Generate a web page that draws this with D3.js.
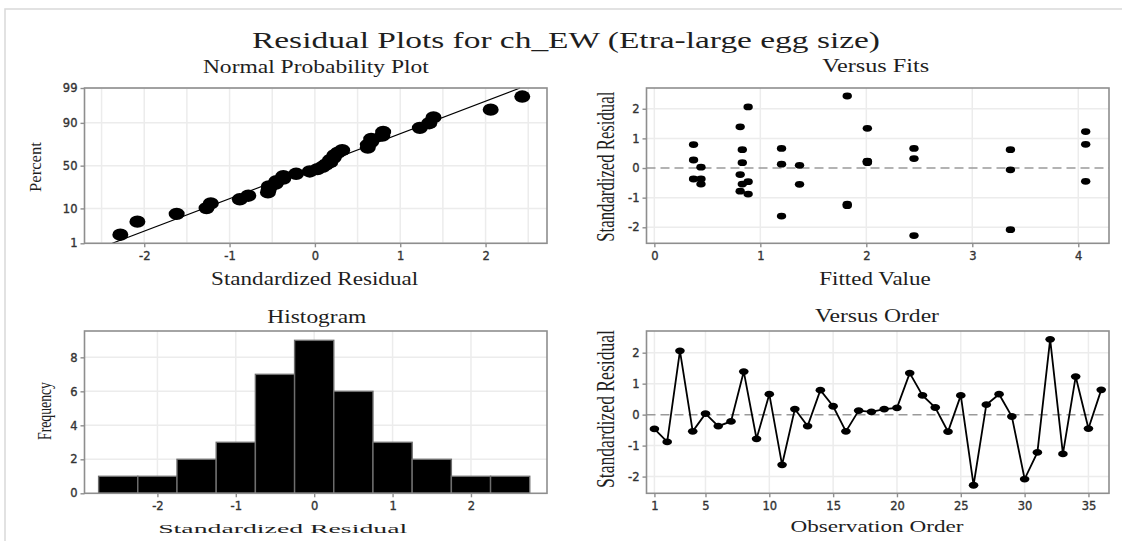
<!DOCTYPE html>
<html>
<head>
<meta charset="utf-8">
<script src="https://cdn.jsdelivr.net/npm/d3@7"></script>
<style>
  html, body { margin: 0; padding: 0; background: #fff; }
  svg { display: block; }
</style>
</head>
<body>
<svg id="chart" width="1122" height="541"></svg>
<script>
// ---- data -------------------------------------------------------------
const observationOrder = [1,2,3,4,5,6,7,8,9,10,11,12,13,14,15,16,17,18,
                          19,20,21,22,23,24,25,26,27,28,29,30,31,32,33,34,35,36];
const residuals = [-0.46,-0.88, 2.06,-0.54, 0.03,-0.37,-0.22, 1.39,-0.78, 0.66,
                   -1.62, 0.18,-0.37, 0.79, 0.27,-0.54, 0.13, 0.09, 0.18, 0.22,
                    1.34, 0.62, 0.23,-0.55, 0.62,-2.28, 0.32, 0.66,-0.06,-2.08,
                   -1.22, 2.43,-1.27, 1.23,-0.45, 0.80];
const fittedValues = [0.885,0.885,0.885,0.83,0.44,0.37,0.81,0.81,0.81,1.20,
                      1.20,0.83,0.44,0.37,0.37,0.44,1.20,1.37,2.01,2.01,
                      2.01,0.83,2.01,1.37,3.36,2.45,2.45,2.45,3.36,3.36,
                      1.82,1.82,1.82,4.07,4.07,4.07];
const histMidpoints = [-2.5,-2,-1.5,-1,-0.5,0,0.5,1,1.5,2,2.5];
const histCounts    = [1,1,2,3,7,9,6,3,2,1,1];

const nppXTicks   = [-2,-1,0,1,2];
const nppXGrid    = [-2.5,-2,-1.5,-1,-0.5,0,0.5,1,1.5,2,2.5];
const nppYTicks   = [1,10,50,90,99];
const fitsXTicks  = [0,1,2,3,4];
const residTicks  = [-2,-1,0,1,2];
const histXTicks  = [-2,-1,0,1,2];
const histYTicks  = [0,2,4,6,8];
const orderTicks  = [1,5,10,15,20,25,30,35];

// ---- helpers ----------------------------------------------------------
// inverse standard normal CDF (Acklam)
function probit(p) {
  const a=[-3.969683028665376e+01,2.209460984245205e+02,-2.759285104469687e+02,1.383577518672690e+02,-3.066479806614716e+01,2.506628277459239e+00];
  const b=[-5.447609879822406e+01,1.615858368580409e+02,-1.556989798598866e+02,6.680131188771972e+01,-1.328068155288572e+01];
  const c=[-7.784894002430293e-03,-3.223964580411365e-01,-2.400758277161838e+00,-2.549732539343734e+00,4.374664141464968e+00,2.938163982698783e+00];
  const d=[7.784695709041462e-03,3.224671290700398e-01,2.445134137142996e+00,3.754408661907416e+00];
  const pl = 0.02425, ph = 1 - pl;
  let q, r;
  if (p < pl) {
    q = Math.sqrt(-2*Math.log(p));
    return (((((c[0]*q+c[1])*q+c[2])*q+c[3])*q+c[4])*q+c[5])/((((d[0]*q+d[1])*q+d[2])*q+d[3])*q+1);
  }
  if (p <= ph) {
    q = p - 0.5; r = q*q;
    return (((((a[0]*r+a[1])*r+a[2])*r+a[3])*r+a[4])*r+a[5])*q/(((((b[0]*r+b[1])*r+b[2])*r+b[3])*r+b[4])*r+1);
  }
  q = Math.sqrt(-2*Math.log(1-p));
  return -(((((c[0]*q+c[1])*q+c[2])*q+c[3])*q+c[4])*q+c[5])/((((d[0]*q+d[1])*q+d[2])*q+d[3])*q+1);
}

const svg = d3.select("#chart");
const SERIF = "'Liberation Serif','Times New Roman',serif";
const SANS  = "'DejaVu Sans',Verdana,sans-serif";
const GRID = "#ececec", FRAME = "#8e8e8e", TICKTXT = "#333";

svg.append("rect").attr("width", 1122).attr("height", 541).attr("fill", "#fff");
// page border
svg.append("path").attr("d", "M5,541V9H1122")
   .attr("fill", "none").attr("stroke", "#d9d9d9").attr("stroke-width", 1.5);

function label(text, x, y, size, len, rotate) {
  const t = svg.append("text")
    .attr("font-family", SERIF).attr("font-size", size)
    .attr("fill", "#1e1e1e").attr("text-anchor", "middle")
    .attr("textLength", len).attr("lengthAdjust", "spacingAndGlyphs")
    .text(text);
  if (rotate) t.attr("transform", `translate(${x},${y}) rotate(-90)`);
  else t.attr("x", x).attr("y", y);
  return t;
}

function panel(box) {
  const g = svg.append("g");
  g.gridLayer = g.append("g");
  g.dataLayer = g.append("g");
  g.frameLayer = g.append("g");
  g.box = box;
  return g;
}

function grid(g, xs, xScale, ys, yScale) {
  const b = g.box;
  g.gridLayer.selectAll(null).data(xs).join("line")
    .attr("x1", d => xScale(d)).attr("x2", d => xScale(d))
    .attr("y1", b.y0).attr("y2", b.y1)
    .attr("stroke", GRID).attr("stroke-width", 1.5);
  g.gridLayer.selectAll(null).data(ys).join("line")
    .attr("y1", d => yScale(d)).attr("y2", d => yScale(d))
    .attr("x1", b.x0).attr("x2", b.x1)
    .attr("stroke", GRID).attr("stroke-width", 1.5);
}

function frameAndAxes(g, xScale, xTicks, xFmt, yScale, yTicks, yFmt) {
  const b = g.box;
  g.frameLayer.append("rect")
    .attr("x", b.x0).attr("y", b.y0)
    .attr("width", b.x1 - b.x0).attr("height", b.y1 - b.y0)
    .attr("fill", "none").attr("stroke", FRAME).attr("stroke-width", 1.6);
  const ax = g.frameLayer.append("g").attr("transform", `translate(0,${b.y1})`)
    .call(d3.axisBottom(xScale).tickValues(xTicks).tickFormat(xFmt)
          .tickSize(4).tickPadding(5).tickSizeOuter(0));
  const ay = g.frameLayer.append("g").attr("transform", `translate(${b.x0},0)`)
    .call(d3.axisLeft(yScale).tickValues(yTicks).tickFormat(yFmt)
          .tickSize(4).tickPadding(3).tickSizeOuter(0));
  [ax, ay].forEach(a => {
    a.select(".domain").remove();
    a.selectAll(".tick line").attr("stroke", FRAME).attr("stroke-width", 1.4);
    a.selectAll(".tick text").attr("font-family", SANS).attr("font-size", 11.5)
      .attr("fill", TICKTXT).attr("stroke", TICKTXT).attr("stroke-width", 0.35);
  });
}

const plain = d => String(d);

// ---- main title ----
label("Residual Plots for ch_EW (Etra-large egg size)", 566, 48, 24, 628);

// ---- Normal Probability Plot ----
{
  const g = panel({x0: 84.5, x1: 547, y0: 88, y1: 243.3});
  const x = d3.scaleLinear().domain([-2.70, 2.72]).range([g.box.x0, g.box.x1]);
  const z = d3.scaleLinear().domain([probit(0.01), probit(0.99)]).range([g.box.y1, g.box.y0]);
  const n = residuals.length;
  const sorted = residuals.slice().sort(d3.ascending);
  const pts = sorted.map((r, i) => ({r, q: probit((i + 1 - 0.3) / (n + 0.4))}));
  const mean = d3.mean(residuals), sd = d3.deviation(residuals);

  grid(g, nppXGrid, x, nppYTicks.map(p => probit(p / 100)), z);
  const zLo = probit(0.01), zHi = probit(0.99);
  g.dataLayer.append("line")
    .attr("x1", x(mean + sd * zLo)).attr("y1", z(zLo))
    .attr("x2", x(mean + sd * zHi)).attr("y2", z(zHi))
    .attr("stroke", "#000").attr("stroke-width", 1.2);
  g.dataLayer.selectAll(null).data(pts).join("ellipse")
    .attr("cx", d => x(d.r)).attr("cy", d => z(d.q))
    .attr("rx", 8).attr("ry", 6.2).attr("fill", "#000");
  const pctLabel = new Map(nppYTicks.map(p => [probit(p / 100), String(p)]));
  frameAndAxes(g, x, nppXTicks, plain, z, nppYTicks.map(p => probit(p / 100)), v => pctLabel.get(v));

  label("Normal Probability Plot", 315.9, 72.7, 18.5, 226);
  label("Standardized Residual", 314.6, 285, 18.5, 207);
  label("Percent", 41, 167, 17, 50, true);
}

// ---- Versus Fits ----
{
  const g = panel({x0: 646.5, x1: 1109, y0: 88, y1: 243.3});
  const x = d3.scaleLinear().domain([-0.074, 4.29]).range([g.box.x0, g.box.x1]);
  const y = d3.scaleLinear().domain([-2.54, 2.70]).range([g.box.y1, g.box.y0]);
  grid(g, fitsXTicks, x, residTicks.filter(v => v !== 0), y);
  g.dataLayer.append("line")
    .attr("x1", g.box.x0).attr("x2", g.box.x1).attr("y1", y(0)).attr("y2", y(0))
    .attr("stroke", "#9a9a9a").attr("stroke-width", 1.5).attr("stroke-dasharray", "9,5");
  g.dataLayer.selectAll(null).data(residuals).join("ellipse")
    .attr("cx", (d, i) => x(fittedValues[i])).attr("cy", d => y(d))
    .attr("rx", 4.7).attr("ry", 3.4).attr("fill", "#000");
  frameAndAxes(g, x, fitsXTicks, plain, y, residTicks, plain);

  label("Versus Fits", 875.7, 71.7, 18.5, 107);
  label("Fitted Value", 875, 285, 18.5, 111.6);
  label("Standardized Residual", 614, 166.7, 26, 150, true);
}

// ---- Histogram ----
{
  const g = panel({x0: 84.5, x1: 547, y0: 331, y1: 493.3});
  const x = d3.scaleLinear().domain([-2.93, 2.97]).range([g.box.x0, g.box.x1]);
  const y = d3.scaleLinear().domain([0, 9.55]).range([g.box.y1, g.box.y0]);
  grid(g, histXTicks, x, histYTicks.filter(v => v !== 0), y);
  const half = 0.25;
  g.dataLayer.selectAll(null).data(histCounts).join("rect")
    .attr("x", (d, i) => x(histMidpoints[i] - half))
    .attr("width", (d, i) => x(histMidpoints[i] + half) - x(histMidpoints[i] - half))
    .attr("y", d => y(d)).attr("height", d => y(0) - y(d))
    .attr("fill", "#000").attr("stroke", "#6e6e6e").attr("stroke-width", 1.4);
  frameAndAxes(g, x, histXTicks, plain, y, histYTicks, plain);

  label("Histogram", 316.8, 322.7, 18.5, 99);
  label("Standardized Residual", 282.7, 532.5, 13.5, 249);
  label("Frequency", 51, 411, 19, 58, true);
}

// ---- Versus Order ----
{
  const g = panel({x0: 646.5, x1: 1109, y0: 331, y1: 493.3});
  const x = d3.scaleLinear().domain([0.38, 36.61]).range([g.box.x0, g.box.x1]);
  const y = d3.scaleLinear().domain([-2.54, 2.70]).range([g.box.y1, g.box.y0]);
  grid(g, orderTicks, x, residTicks.filter(v => v !== 0), y);
  g.dataLayer.append("line")
    .attr("x1", g.box.x0).attr("x2", g.box.x1).attr("y1", y(0)).attr("y2", y(0))
    .attr("stroke", "#9a9a9a").attr("stroke-width", 1.5).attr("stroke-dasharray", "9,5");
  const line = d3.line().x((d, i) => x(observationOrder[i])).y(d => y(d));
  g.dataLayer.append("path").attr("d", line(residuals))
    .attr("fill", "none").attr("stroke", "#000").attr("stroke-width", 1.8);
  g.dataLayer.selectAll(null).data(residuals).join("ellipse")
    .attr("cx", (d, i) => x(observationOrder[i])).attr("cy", d => y(d))
    .attr("rx", 4.8).attr("ry", 3.4).attr("fill", "#000");
  frameAndAxes(g, x, orderTicks, plain, y, residTicks, plain);

  label("Versus Order", 877, 321.7, 18.5, 124);
  label("Observation Order", 877, 531.5, 17.5, 173);
  label("Standardized Residual", 614, 409, 26, 158, true);
}
</script>
</body>
</html>
